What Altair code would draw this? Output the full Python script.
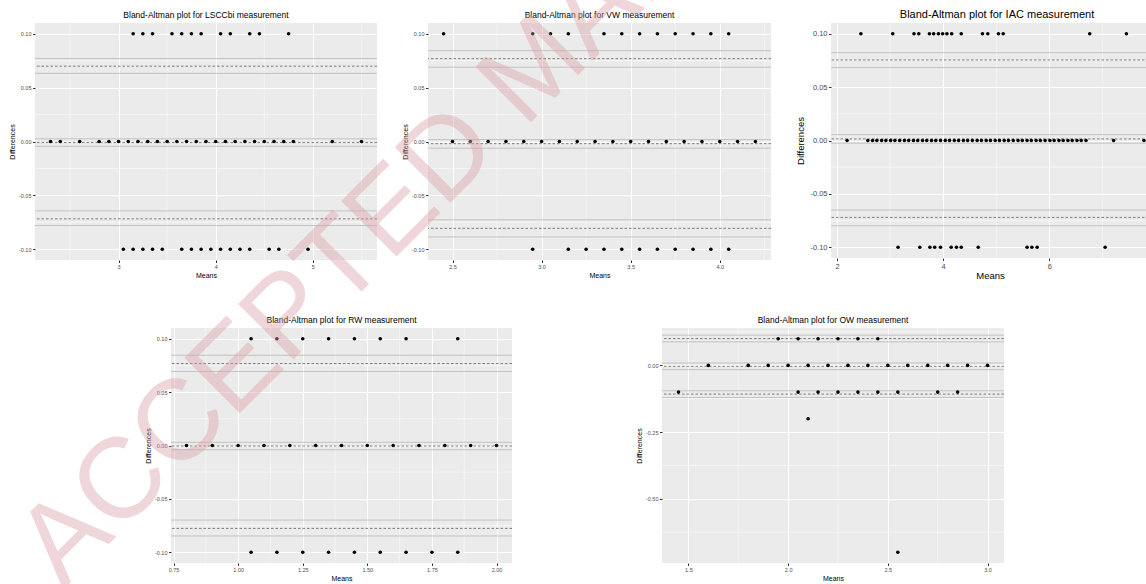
import altair as alt
import pandas as pd

FONT = "Liberation Sans"
BG = "#EBEBEB"

# ---------------- data ----------------
LEVELS = [0.10, 0.00, -0.10]

# LSCCbi
lsc_top = [3.15, 3.25, 3.35, 3.55, 3.65, 3.75, 3.85, 4.05, 4.15, 4.35, 4.45, 4.75]
lsc_zero = [2.3, 2.4, 2.6, 2.8, 2.9, 3.0, 3.1, 3.2, 3.3, 3.4, 3.5, 3.6, 3.7, 3.8, 3.9,
            4.0, 4.1, 4.2, 4.3, 4.4, 4.5, 4.6, 4.7, 4.8, 5.2, 5.5]
lsc_bottom = [3.05, 3.15, 3.25, 3.35, 3.45, 3.65, 3.75, 3.85, 3.95, 4.05, 4.15, 4.25,
              4.35, 4.55, 4.65, 4.95]
lsc_dashed = [0.0699, -0.001, -0.0718]
lsc_solid = [0.0770, 0.0632, 0.0025, -0.0045, -0.0644, -0.0780]

# VW
vw_top = [2.45, 2.95, 3.05, 3.15, 3.35, 3.45, 3.55, 3.65, 3.75, 3.85, 3.95, 4.05]
vw_zero = [2.5, 2.6, 2.7, 2.8, 2.9, 3.0, 3.1, 3.2, 3.3, 3.4, 3.5, 3.6, 3.7, 3.8, 3.9,
           4.0, 4.1, 4.2]
vw_bottom = [2.95, 3.15, 3.25, 3.35, 3.45, 3.55, 3.65, 3.75, 3.85, 3.95, 4.05]
vw_dashed = [0.0769, -0.002, -0.0806]
vw_solid = [0.0843, 0.0690, 0.0018, -0.0062, -0.0727, -0.0886]

# IAC
iac_top = [2.45, 3.05, 3.45, 3.54, 3.74, 3.82, 3.91, 3.99, 4.07, 4.16, 4.34, 4.74,
           4.84, 5.04, 5.13, 6.76, 7.45]
iac_zero = [2.19, 2.58, 2.67, 2.75, 2.84, 2.92, 3.01, 3.09, 3.18, 3.27, 3.35, 3.44,
            3.52, 3.61, 3.69, 3.78, 3.86, 3.95, 4.04, 4.12, 4.21, 4.29, 4.38, 4.46,
            4.55, 4.64, 4.72, 4.81, 4.89, 4.98, 5.06, 5.15, 5.23, 5.32, 5.41, 5.49,
            5.58, 5.66, 5.75, 5.83, 5.92, 6.01, 6.09, 6.18, 6.26, 6.35, 6.43, 6.52,
            6.60, 6.69, 7.21, 7.78]
iac_bottom = [3.15, 3.56, 3.75, 3.84, 3.95, 4.15, 4.25, 4.34, 4.66, 5.58, 5.67, 5.77, 7.05]
iac_dashed = [0.0754, 0.0015, -0.0720]
iac_solid = [0.0822, 0.0683, 0.0055, -0.0025, -0.0651, -0.0798]

# RW
rw_top = [1.05, 1.15, 1.25, 1.35, 1.45, 1.55, 1.65, 1.85]
rw_zero = [0.8, 0.9, 1.0, 1.1, 1.2, 1.3, 1.4, 1.5, 1.6, 1.7, 1.8, 1.9, 2.0]
rw_bottom = [1.05, 1.15, 1.25, 1.35, 1.45, 1.55, 1.65, 1.75, 1.85]
rw_dashed = [0.0767, -0.0005, -0.0776]
rw_solid = [0.0845, 0.0693, 0.0030, -0.0040, -0.0698, -0.0847]

# OW
OW_LEVELS = [0.10, 0.00, -0.10, -0.20, -0.70]
ow_top = [1.95, 2.05, 2.15, 2.25, 2.35, 2.45]
ow_zero = [1.6, 1.8, 1.9, 2.0, 2.1, 2.2, 2.3, 2.4, 2.5, 2.6, 2.7, 2.8, 2.9, 3.0]
ow_m01 = [1.45, 2.05, 2.15, 2.25, 2.35, 2.45, 2.55, 2.75, 2.85]
ow_m02 = [2.1]
ow_m07 = [2.55]
ow_dashed = [0.1005, -0.0035, -0.1075]
ow_solid = [0.113, 0.088, 0.009, -0.016, -0.095, -0.120]

# axis ticks
Y_TICKS = [-0.10, -0.05, 0.00, 0.05, 0.10]
Y_MINOR = [-0.075, -0.025, 0.025, 0.075]
OW_Y_TICKS = [-0.50, -0.25, 0.00]
OW_Y_MINOR = [-0.625, -0.375, -0.125, 0.125]

WATERMARK = "ACCEPTED MANUSCRIPT"


def points(levels, groups):
    rows = []
    for lev, xs in zip(levels, groups):
        for x in xs:
            rows.append({"Means": x, "Differences": lev})
    return pd.DataFrame(rows)


def panel(title, pts, solid, dashed, xdom, ydom, xticks, xminor, yticks, yminor,
          xfmt, w, h, big=False, title_dx=0):
    lab = 7.5 if big else 5.5
    tit = 9.5 if big else 7
    head = 11 if big else 8.5
    yext = 24 if big else 18
    xs = alt.Scale(domain=xdom, nice=False, zero=False)
    ys = alt.Scale(domain=ydom, nice=False, zero=False)
    common = dict(grid=True, gridColor="white", gridWidth=1, domain=False,
                  tickColor="#333333", tickSize=2.5, labelFont=FONT, labelFontSize=lab,
                  labelColor="#4D4D4D", titleFont=FONT, titleFontSize=tit,
                  titleFontWeight="normal", titleColor="black")
    xaxis = alt.Axis(values=xticks, format=xfmt, labelPadding=1.5,
                     titlePadding=1 if big else 2, **common)
    yaxis = alt.Axis(values=yticks,
                     labelExpr="replace(format(datum.value, '.2f'), '\u2212', '-')",
                     labelPadding=1.5, minExtent=yext, maxExtent=yext,
                     titlePadding=2 if big else 1.5, **common)

    def X(f):
        return alt.X(f, type="quantitative", scale=xs, axis=xaxis, title="Means")

    def Y(f):
        return alt.Y(f, type="quantitative", scale=ys, axis=yaxis, title="Differences")

    gx = alt.Chart(pd.DataFrame({"v": xminor})).mark_rule(
        color="white", strokeWidth=0.5).encode(x=X("v"))
    gy = alt.Chart(pd.DataFrame({"v": yminor})).mark_rule(
        color="white", strokeWidth=0.5).encode(y=Y("v"))
    sl = alt.Chart(pd.DataFrame({"v": solid})).mark_rule(
        color="#BDBDBD", strokeWidth=0.9).encode(y=Y("v"))
    dl = alt.Chart(pd.DataFrame({"v": dashed})).mark_rule(
        color="#6E6E6E", strokeWidth=0.9, strokeDash=[2.5, 2]).encode(y=Y("v"))
    pt = alt.Chart(pts).mark_circle(size=13, color="black", opacity=1, clip=True).encode(
        x=X("Means"), y=Y("Differences"))
    return alt.layer(gx, gy, sl, dl, pt).properties(
        width=w, height=h,
        view=alt.ViewBackground(fill=BG, strokeWidth=0),
        title=alt.TitleParams(text=title, font=FONT, fontSize=head, fontWeight="normal",
                              color="black", anchor="middle", offset=3, dx=title_dx))


p1 = panel("Bland-Altman plot for LSCCbi measurement",
           points(LEVELS, [lsc_top, lsc_zero, lsc_bottom]), lsc_solid, lsc_dashed,
           [2.14, 5.66], [-0.11, 0.11], [3, 4, 5], [2.5, 3.5, 4.5, 5.5],
           Y_TICKS, Y_MINOR, "d", 342, 237)
p2 = panel("Bland-Altman plot for VW measurement",
           points(LEVELS, [vw_top, vw_zero, vw_bottom]), vw_solid, vw_dashed,
           [2.3625, 4.2875], [-0.11, 0.11], [2.5, 3.0, 3.5, 4.0], [2.75, 3.25, 3.75, 4.25],
           Y_TICKS, Y_MINOR, ".1f", 343, 237)
p3 = panel("Bland-Altman plot for IAC measurement",
           points(LEVELS, [iac_top, iac_zero, iac_bottom]), iac_solid, iac_dashed,
           [1.887, 7.876], [-0.11, 0.11], [2, 4, 6], [3, 5, 7],
           Y_TICKS, Y_MINOR, "d", 318, 235, big=True, title_dx=7)
p4 = panel("Bland-Altman plot for RW measurement",
           points(LEVELS, [rw_top, rw_zero, rw_bottom]), rw_solid, rw_dashed,
           [0.74, 2.06], [-0.11, 0.11], [0.75, 1.0, 1.25, 1.5, 1.75, 2.0],
           [0.875, 1.125, 1.375, 1.625, 1.875], Y_TICKS, Y_MINOR, ".2f", 341, 235)
p5 = panel("Bland-Altman plot for OW measurement",
           points(OW_LEVELS, [ow_top, ow_zero, ow_m01, ow_m02, ow_m07]), ow_solid, ow_dashed,
           [1.3675, 3.0825], [-0.74, 0.14], [1.5, 2.0, 2.5, 3.0], [1.75, 2.25, 2.75],
           OW_Y_TICKS, OW_Y_MINOR, ".1f", 342, 235)

spacer = alt.Chart(pd.DataFrame({"v": [0]})).mark_point(opacity=0).encode(
    x=alt.value(0), y=alt.value(0)).properties(width=100, height=235)

top = alt.hconcat(p1, p2, p3, spacing=23)
bottom = alt.hconcat(spacer, alt.hconcat(p4, p5, spacing=122), spacing=9)
main = alt.vconcat(top, bottom, spacing=36)

# faint diagonal watermark, drawn last so that it lies over the panels
watermark = alt.Chart(pd.DataFrame({"t": [WATERMARK]})).mark_text(
    font=FONT, fontSize=114, angle=315, align="left", baseline="alphabetic",
    color="#D9A0A8", opacity=0.42).encode(
    text="t:N", x=alt.value(28), y=alt.value(0)).properties(width=1, height=1)

chart = alt.vconcat(main, watermark, spacing=-1051).properties(
    autosize=alt.AutoSizeParams(type="none"),
    padding={"left": 35, "top": 23, "right": 1111, "bottom": 561},
    background="white",
).configure_view(strokeWidth=0)

chart.save("out.html", embed_options={"renderer": "svg", "actions": False})
